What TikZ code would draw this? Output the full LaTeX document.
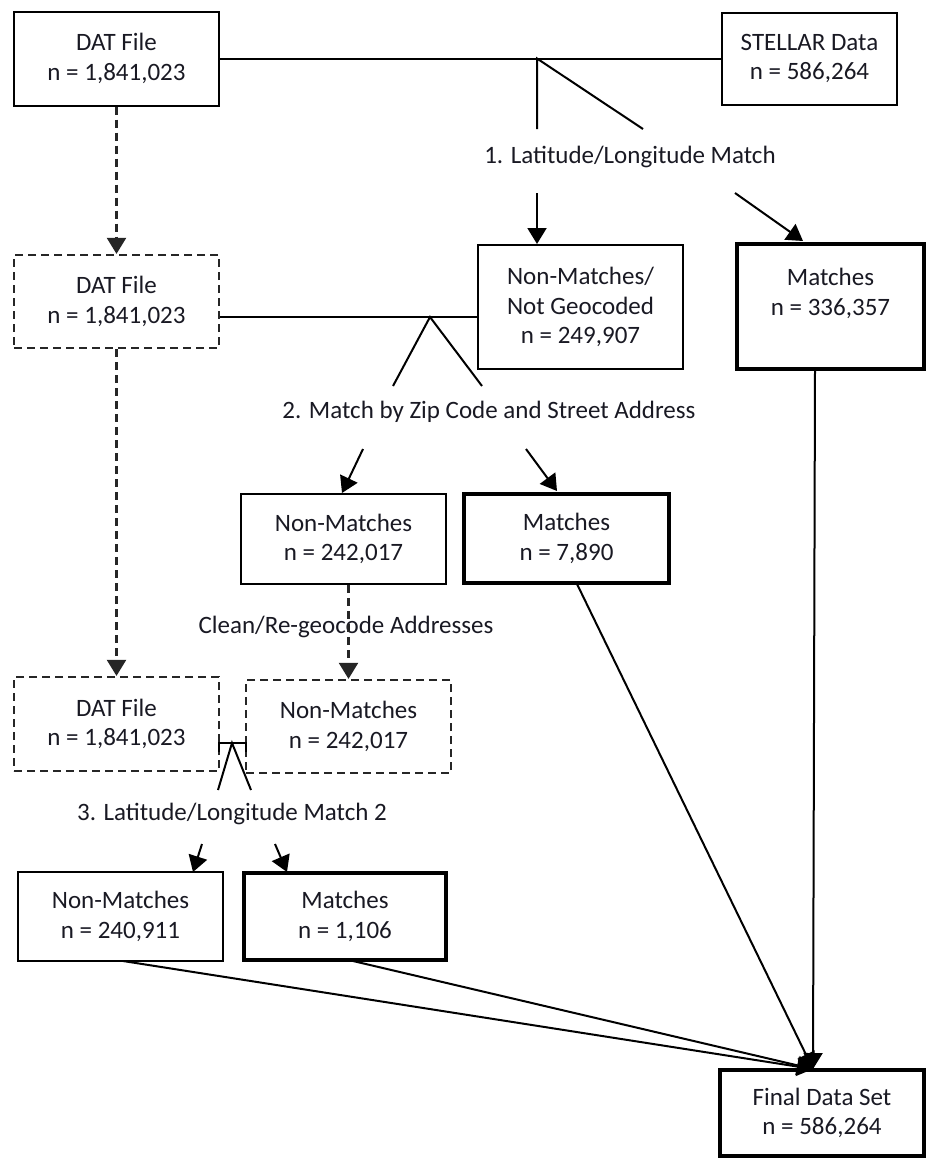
\documentclass[tikz,border=0pt]{standalone}
\usepackage{fontspec}
\setmainfont{Carlito}
\usetikzlibrary{arrows.meta,calc}
\definecolor{txt}{RGB}{25,25,35}
\begin{document}
\begin{tikzpicture}[x=1pt,y=-1pt,
  every node/.style={font=\fontsize{25}{29.5}\selectfont,text=txt,align=center},
  box/.style={draw=black,line width=2pt,inner sep=0pt},
  thickbox/.style={draw=black,line width=4.5pt,inner sep=0pt},
  dbox/.style={draw=black!85,line width=2.2pt,dash pattern=on 8pt off 5pt,inner sep=0pt},
  conn/.style={draw=black,line width=2pt},
  arr/.style={conn,-{Triangle[width=19pt,length=16pt]}},
  darr/.style={draw=black!85,line width=2.2pt,dash pattern=on 8pt off 5pt,-{Triangle[width=19pt,length=16pt]}},
  lab/.style={inner sep=1pt}]
\useasboundingbox (0,0) rectangle (927,1159);

% nodes
\node[box,minimum width=205pt,minimum height=94pt] (dat1) at (116.5,58.5) {DAT File\\n = 1,841,023};
\node[box,minimum width=175pt,minimum height=92pt] (stellar) at (809.5,58.5) {STELLAR Data\\n = 586,264};
\node[box,minimum width=205pt,minimum height=124pt] (nm1) at (580.5,307) {Non-Matches/\\Not Geocoded\\n = 249,907};
\node[thickbox,minimum width=187pt,minimum height=125pt] (m1) at (830.5,306.5) {Matches\\n = 336,357\\\mbox{}};
\node[dbox,minimum width=205pt,minimum height=93pt] (dat2) at (116.5,301.5) {DAT File\\n = 1,841,023};
\node[box,minimum width=205pt,minimum height=90pt] (nm2) at (343.5,539) {Non-Matches\\n = 242,017};
\node[thickbox,minimum width=205pt,minimum height=89pt] (m2) at (566.5,538.5) {Matches\\n = 7,890};
\node[dbox,minimum width=205pt,minimum height=94pt] (dat3) at (116.5,724) {DAT File\\n = 1,841,023};
\node[dbox,minimum width=205pt,minimum height=93pt] (nm3) at (348.5,726.5) {Non-Matches\\n = 242,017};
\node[box,minimum width=205pt,minimum height=89pt] (nm4) at (120.5,916.5) {Non-Matches\\n = 240,911};
\node[thickbox,minimum width=202pt,minimum height=87pt] (m4) at (345,916.5) {Matches\\n = 1,106};
\node[thickbox,minimum width=204pt,minimum height=86pt] (final) at (822,1113) {Final Data Set\\n = 586,264};

% labels
\node[lab] (l1) at (630,157) {1. Latitude/Longitude Match};
\node[lab] (l2) at (489,412) {2. Match by Zip Code and Street Address};
\node[lab] (l3) at (346,627) {Clean/Re-geocode Addresses};
\node[lab] (l4) at (232,814) {3. Latitude/Longitude Match 2};

% step 1
\coordinate (j1) at (537,58.5);
\coordinate (j1a) at (537,129);
\coordinate (j1b) at (643,129);
\draw[conn] (dat1.east) -- (stellar.west);
\draw[conn] (j1a) -- (j1) -- (j1b);
\coordinate (a1) at (537,193);
\draw[arr] (a1) -- (a1 |- nm1.north);
\coordinate (a2) at (735,193);
\coordinate (a2e) at (803,241);
\draw[arr] (a2) -- (a2e);

% step 2
\draw[darr] (dat1.south) -- (dat2.north);
\coordinate (j2) at (430,317);
\draw[conn] (j2 -| dat2.east) -- (j2 -| nm1.west);
\coordinate (j2a) at (393,386);
\coordinate (j2b) at (482,386);
\draw[conn] (j2a) -- (j2) -- (j2b);
\coordinate (b1) at (363,449);
\coordinate (b1e) at (342,493);
\coordinate (b2) at (526,449);
\coordinate (b2e) at (557,491);
\draw[arr] (b1) -- (b1e);
\draw[arr] (b2) -- (b2e);

% clean
\draw[darr] (nm3.north |- nm2.south) -- (nm3.north);
\draw[darr] (dat2.south) -- (dat3.north);

% step 3
\coordinate (j3) at (232,743);
\draw[conn] (219,752) -- (219,743) -- (246,743) -- (246,752);
\coordinate (j3a) at (218,790);
\coordinate (j3b) at (251,790);
\draw[conn] (j3a) -- (j3) -- (j3b);
\coordinate (c1) at (202,844);
\coordinate (c1e) at (193,872);
\coordinate (c2) at (275,844);
\coordinate (c2e) at (287,872);
\draw[arr] (c1) -- (c1e);
\draw[arr] (c2) -- (c2e);

% to final
\coordinate (ft) at (813,1069);
\coordinate (m1o) at (815,370);
\coordinate (m2o) at (577,584);
\coordinate (nm4o) at (123,961);
\coordinate (m4o) at (353,961);
\draw[arr] (m1o) -- (ft);
\draw[arr] (m2o) -- (ft);
\draw[arr] (nm4o) -- (ft);
\draw[arr] (m4o) -- (ft);
\end{tikzpicture}
\end{document}
